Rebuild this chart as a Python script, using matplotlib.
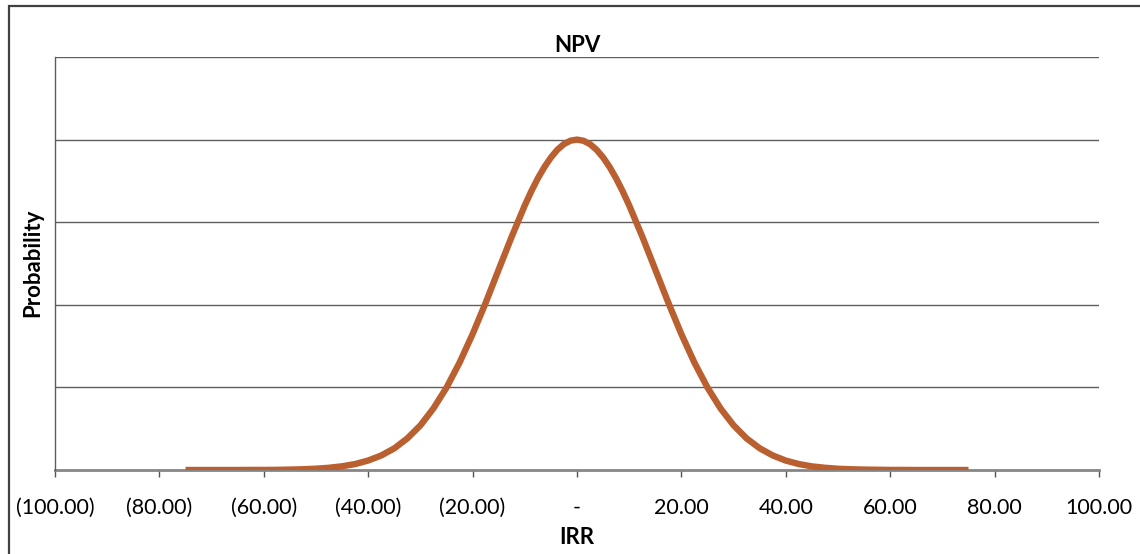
import matplotlib.pyplot as plt
from matplotlib.patches import Rectangle

plt.rcParams['font.family'] = ['Lato', 'DejaVu Sans']

# values (probability, in gridline units)
irr = [-75.0, -72.5, -70.0, -67.5, -65.0, -62.5, -60.0, -57.5, -55.0, -52.5,
       -50.0, -47.5, -45.0, -42.5, -40.0, -37.5, -35.0, -32.5, -30.0, -27.5,
       -25.0, -22.5, -20.0, -17.5, -15.0, -12.5, -10.0, -8.75, -7.5, -6.25,
       -5.0, -3.75, -2.5, -1.25, 0.0, 1.25, 2.5, 3.75, 5.0, 6.25,
       7.5, 8.75, 10.0, 12.5, 15.0, 17.5, 20.0, 22.5,
       25.0, 27.5, 30.0, 32.5, 35.0, 37.5, 40.0, 42.5, 45.0, 47.5,
       50.0, 52.5, 55.0, 57.5, 60.0, 62.5, 65.0, 67.5, 70.0, 72.5, 75.0]
prob = [0.000, 0.000, 0.000, 0.000, 0.000, 0.001, 0.001, 0.002, 0.005, 0.009,
        0.016, 0.027, 0.045, 0.072, 0.115, 0.176, 0.262, 0.383, 0.540, 0.746,
        0.997, 1.300, 1.645, 2.024, 2.427, 2.826, 3.204, 3.375, 3.531, 3.667,
        3.783, 3.878, 3.946, 3.987, 4.000, 3.986, 3.945, 3.877, 3.784, 3.668,
        3.530, 3.374, 3.203, 2.827, 2.426, 2.025, 1.644, 1.299,
        0.998, 0.745, 0.541, 0.382, 0.263, 0.176, 0.114, 0.072, 0.044, 0.027,
        0.015, 0.009, 0.005, 0.003, 0.001, 0.001, 0.000, 0.000, 0.000, 0.000, 0.000]

xticks = [-100, -80, -60, -40, -20, 0, 20, 40, 60, 80, 100]
xlabels = ["(100.00)", "(80.00)", "(60.00)", "(40.00)", "(20.00)", "-",
           "20.00", "40.00", "60.00", "80.00", "100.00"]
grid_y = [1, 2, 3, 4, 5]

W, H = 1140, 554
fig = plt.figure(figsize=(W / 100, H / 100), dpi=100)
ax = fig.add_axes([55 / W, 1 - 470 / H, (1099 - 55) / W, (470 - 57) / H])

# outer chart frame
fig.patches.append(Rectangle((9 / W, -0.2), 1.2, 1.2 - 6 / H,
                             transform=fig.transFigure, fill=False,
                             edgecolor='#404040', lw=1.6, clip_on=False))

for g in grid_y:
    ax.axhline(g, color='#5e5e5e', lw=1.0, zorder=1)

ax.plot(irr, prob, color='#BA5F30', lw=4.6, solid_capstyle='butt',
        solid_joinstyle='round', zorder=3)

ax.set_xlim(-100, 100)
ax.set_ylim(0, 5)
ax.set_xticks(xticks)
ax.set_xticklabels(xlabels, fontsize=15.5)
ax.set_yticks([])
ax.tick_params(axis='x', direction='out', length=5, width=1, color='#555555',
               pad=15)

ax.spines['right'].set_visible(False)
ax.spines['top'].set_visible(False)
ax.spines['left'].set_color('#5e5e5e')
ax.spines['left'].set_linewidth(1.0)
ax.spines['bottom'].set_color('#868686')
ax.spines['bottom'].set_linewidth(2.0)
ax.spines['bottom'].set_zorder(2)

fig.text(577 / W, 1 - 45 / H, "NPV", fontsize=16, fontweight='bold',
         ha='center', va='center')
fig.text(577 / W, 1 - 537 / H, "IRR", fontsize=16, fontweight='bold',
         ha='center', va='center')
fig.text(33 / W, 1 - 263 / H, "Probability", fontsize=16, fontweight='bold',
         rotation=90, ha='center', va='center')

fig.savefig("out.png", dpi=100)
